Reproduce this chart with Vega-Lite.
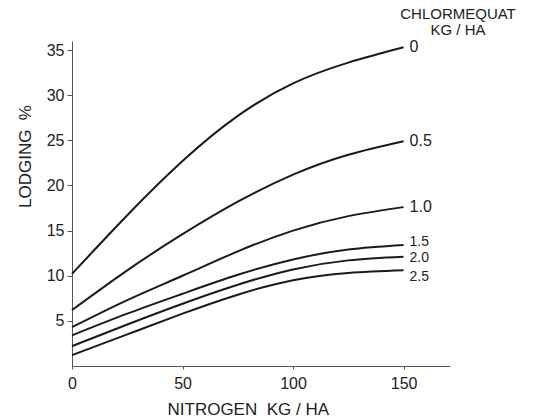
{
  "$schema": "https://vega.github.io/schema/vega-lite/v6.json",
  "width": 378,
  "height": 325,
  "autosize": "none",
  "padding": {"left": 72, "top": 41, "right": 85, "bottom": 53},
  "background": "white",
  "config": {
    "view": {"stroke": null},
    "font": "Liberation Sans",
    "axis": {"grid": false, "domainColor": "#555", "tickColor": "#555", "labelColor": "#222", "titleColor": "#222", "labelFont": "Liberation Sans", "titleFont": "Liberation Sans", "labelFontSize": 16, "titleFontSize": 16, "titleFontWeight": "normal"}
  },
  "title": {
    "text": ["CHLORMEQUAT", "KG / HA"],
    "anchor": "end",
    "align": "center",
    "dx": 8,
    "offset": 1,
    "fontSize": 15,
    "fontWeight": "normal",
    "font": "Liberation Sans",
    "color": "#222",
    "lineHeight": 16
  },
  "data": {
    "values": [
      {"n": 0, "lodging": 10.2, "rate": "0"},
      {"n": 25, "lodging": 16.7, "rate": "0"},
      {"n": 50, "lodging": 22.7, "rate": "0"},
      {"n": 75, "lodging": 27.7, "rate": "0"},
      {"n": 100, "lodging": 31.3, "rate": "0"},
      {"n": 125, "lodging": 33.6, "rate": "0"},
      {"n": 150, "lodging": 35.3, "rate": "0"},
      {"n": 0, "lodging": 6.2, "rate": "0.5"},
      {"n": 25, "lodging": 10.6, "rate": "0.5"},
      {"n": 50, "lodging": 14.6, "rate": "0.5"},
      {"n": 75, "lodging": 18.2, "rate": "0.5"},
      {"n": 100, "lodging": 21.2, "rate": "0.5"},
      {"n": 125, "lodging": 23.4, "rate": "0.5"},
      {"n": 150, "lodging": 24.9, "rate": "0.5"},
      {"n": 0, "lodging": 4.3, "rate": "1.0"},
      {"n": 25, "lodging": 7.3, "rate": "1.0"},
      {"n": 50, "lodging": 10.0, "rate": "1.0"},
      {"n": 75, "lodging": 12.7, "rate": "1.0"},
      {"n": 100, "lodging": 15.0, "rate": "1.0"},
      {"n": 125, "lodging": 16.6, "rate": "1.0"},
      {"n": 150, "lodging": 17.6, "rate": "1.0"},
      {"n": 0, "lodging": 3.4, "rate": "1.5"},
      {"n": 25, "lodging": 5.8, "rate": "1.5"},
      {"n": 50, "lodging": 8.0, "rate": "1.5"},
      {"n": 75, "lodging": 10.1, "rate": "1.5"},
      {"n": 100, "lodging": 11.8, "rate": "1.5"},
      {"n": 125, "lodging": 12.9, "rate": "1.5"},
      {"n": 150, "lodging": 13.4, "rate": "1.5"},
      {"n": 0, "lodging": 2.2, "rate": "2.0"},
      {"n": 25, "lodging": 4.6, "rate": "2.0"},
      {"n": 50, "lodging": 6.9, "rate": "2.0"},
      {"n": 75, "lodging": 9.0, "rate": "2.0"},
      {"n": 100, "lodging": 10.7, "rate": "2.0"},
      {"n": 125, "lodging": 11.7, "rate": "2.0"},
      {"n": 150, "lodging": 12.1, "rate": "2.0"},
      {"n": 0, "lodging": 1.2, "rate": "2.5"},
      {"n": 25, "lodging": 3.5, "rate": "2.5"},
      {"n": 50, "lodging": 5.8, "rate": "2.5"},
      {"n": 75, "lodging": 7.9, "rate": "2.5"},
      {"n": 100, "lodging": 9.5, "rate": "2.5"},
      {"n": 125, "lodging": 10.3, "rate": "2.5"},
      {"n": 150, "lodging": 10.6, "rate": "2.5"}
    ]
  },
  "encoding": {
    "x": {
      "field": "n", "type": "quantitative",
      "scale": {"domain": [0, 171], "nice": false},
      "axis": {"values": [0, 50, 100, 150], "title": "NITROGEN\u00a0\u00a0KG / HA", "titleFontSize": 17, "tickSize": 3, "labelPadding": 6, "titlePadding": 10, "titleAnchor": "start", "titleX": 95, "labelFlush": false}
    },
    "y": {
      "field": "lodging", "type": "quantitative",
      "scale": {"domain": [0, 36], "nice": false},
      "axis": {"values": [5, 10, 15, 20, 25, 30, 35], "title": "LODGING\u00a0\u00a0%", "titleFontSize": 17, "tickSize": 5, "labelPadding": 3, "titlePadding": 12, "titleAnchor": "middle", "titleY": 115}
    }
  },
  "layer": [
    {
      "mark": {"type": "line", "interpolate": "natural", "color": "#1a1a1a", "strokeWidth": 2},
      "encoding": {"detail": {"field": "rate"}}
    },
    {
      "transform": [{"filter": "datum.n == 150 && (datum.rate == '0' || datum.rate == '0.5' || datum.rate == '1.0')"}],
      "mark": {"type": "text", "align": "left", "baseline": "middle", "dx": 6, "fontSize": 16, "font": "Liberation Sans", "color": "#222"},
      "encoding": {"text": {"field": "rate"}}
    },
    {
      "transform": [{"filter": "datum.n == 150 && datum.rate == '1.5'"}],
      "mark": {"type": "text", "align": "left", "baseline": "middle", "dx": 6, "dy": -3, "fontSize": 14, "font": "Liberation Sans", "color": "#222"},
      "encoding": {"text": {"field": "rate"}}
    },
    {
      "transform": [{"filter": "datum.n == 150 && datum.rate == '2.0'"}],
      "mark": {"type": "text", "align": "left", "baseline": "middle", "dx": 6, "dy": 1, "fontSize": 14, "font": "Liberation Sans", "color": "#222"},
      "encoding": {"text": {"field": "rate"}}
    },
    {
      "transform": [{"filter": "datum.n == 150 && datum.rate == '2.5'"}],
      "mark": {"type": "text", "align": "left", "baseline": "middle", "dx": 6, "dy": 7, "fontSize": 14, "font": "Liberation Sans", "color": "#222"},
      "encoding": {"text": {"field": "rate"}}
    }
  ]
}
